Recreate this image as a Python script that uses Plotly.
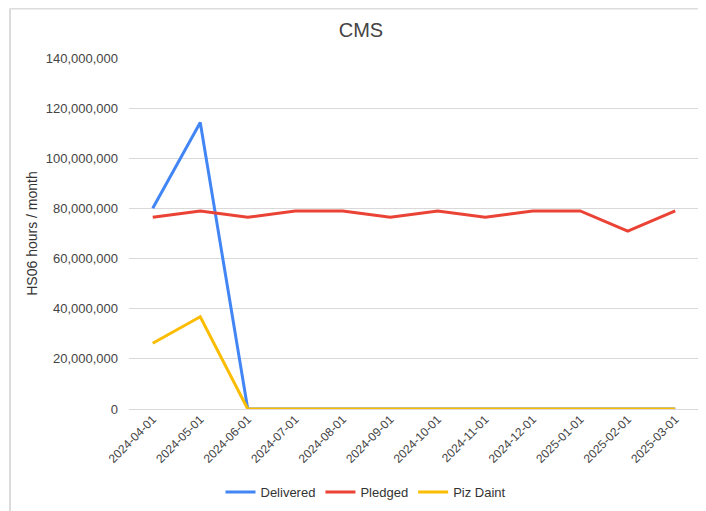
import plotly.graph_objects as go

months = ["2024-04-01", "2024-05-01", "2024-06-01", "2024-07-01", "2024-08-01", "2024-09-01",
          "2024-10-01", "2024-11-01", "2024-12-01", "2025-01-01", "2025-02-01", "2025-03-01"]
delivered = [80100000, 114300000, 0, 0, 0, 0, 0, 0, 0, 0, 0, 0]
pledged = [76450000, 79000000, 76450000, 79000000, 79000000, 76450000,
           79000000, 76450000, 79000000, 79000000, 70900000, 79000000]
piz_daint = [26200000, 36800000, 0, 0, 0, 0, 0, 0, 0, 0, 0, 0]

series = [("Delivered", delivered, "#4285F4"),
          ("Pledged", pledged, "#EA4335"),
          ("Piz Daint", piz_daint, "#FBBC04")]

fig = go.Figure()
for name, vals, color in series:
    fig.add_trace(go.Scatter(x=months, y=vals, name=name, mode="lines",
                             line=dict(color=color, width=3)))

# page body has an 8px offset; work in screen coordinates and convert
OFF = 8
W, H = 706 - OFF, 511 - OFF
L, R, T, B = 129 - OFF, 7, 58 - OFF, 102
pw, ph = W - L - R, H - T - B

def px(x):
    return (x - OFF - L) / pw

def py(y):
    return (H - B - (y - OFF)) / ph

fig.update_layout(
    width=W, height=H,
    margin=dict(l=L, r=R, t=T, b=B, autoexpand=False),
    paper_bgcolor="white", plot_bgcolor="white",
    font=dict(family="Arial, Liberation Sans, sans-serif", size=12, color="#444444"),
    title=dict(text="CMS", x=(361 - OFF) / W, xanchor="center", y=1 - (30 - OFF) / H, yanchor="middle",
               font=dict(size=20, color="#444444")),
    showlegend=True,
    legend=dict(orientation="h", x=px(366), xanchor="center", y=py(492), yanchor="middle",
                font=dict(size=13, color="#333333"), itemwidth=30, tracegroupgap=0),
    xaxis=dict(type="category", range=[-0.5, 11.5], showgrid=False, zeroline=False,
               showline=False, tickangle=-45, tickfont=dict(size=12, color="#444444"),
               automargin=False, ticks=""),
    yaxis=dict(range=[0, 140000000], dtick=20000000, tickformat=",d",
               showgrid=True, gridcolor="#d9d9d9", gridwidth=1,
               zeroline=True, zerolinecolor="#d9d9d9", zerolinewidth=1,
               showline=False, ticks="", ticklabelstandoff=10, automargin=False,
               tickfont=dict(size=13, color="#444444"),
               title=dict(text="HS06 hours / month", standoff=4,
                          font=dict(size=14, color="#333333"))),
    shapes=[
        dict(type="line", xref="paper", yref="paper", x0=px(10), x1=px(10), y0=py(511), y1=py(8.5),
             line=dict(color="#dcdcdc", width=2)),
        dict(type="line", xref="paper", yref="paper", x0=px(10), x1=px(706), y0=py(8.5), y1=py(8.5),
             line=dict(color="#dcdcdc", width=2)),
    ],
)

fig.write_html("out.html")
